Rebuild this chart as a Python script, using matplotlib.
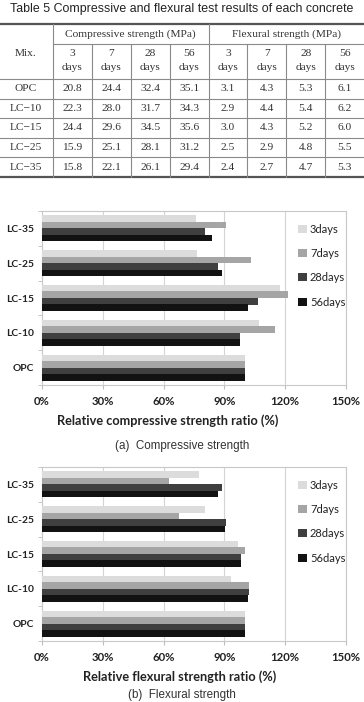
import matplotlib
matplotlib.use("Agg")
import matplotlib.pyplot as plt
from matplotlib.lines import Line2D
import numpy as np

# ---- data ----
mixes = ["OPC", "LC-10", "LC-15", "LC-25", "LC-35"]
day_labels = ["3days", "7days", "28days", "56days"]

comp_3d = ["20.8", "22.3", "24.4", "15.9", "15.8"]
comp_7d = ["24.4", "28.0", "29.6", "25.1", "22.1"]
comp_28d = ["32.4", "31.7", "34.5", "28.1", "26.1"]
comp_56d = ["35.1", "34.3", "35.6", "31.2", "29.4"]
flex_3d = ["3.1", "2.9", "3.0", "2.5", "2.4"]
flex_7d = ["4.3", "4.4", "4.3", "2.9", "2.7"]
flex_28d = ["5.3", "5.4", "5.2", "4.8", "4.7"]
flex_56d = ["6.1", "6.2", "6.0", "5.5", "5.3"]

# relative ratios (%), order = mixes
comp_ratio_3d = [100, 107.2, 117.3, 76.4, 76.0]
comp_ratio_7d = [100, 114.8, 121.3, 102.9, 90.6]
comp_ratio_28d = [100, 97.8, 106.5, 86.7, 80.6]
comp_ratio_56d = [100, 97.7, 101.4, 88.9, 83.8]

flex_ratio_3d = [100, 93.5, 96.8, 80.6, 77.4]
flex_ratio_7d = [100, 102.3, 100.0, 67.4, 62.8]
flex_ratio_28d = [100, 101.9, 98.1, 90.6, 88.7]
flex_ratio_56d = [100, 101.6, 98.4, 90.2, 86.9]

W, H = 364, 702
fig = plt.figure(figsize=(W / 100, H / 100), dpi=100)


def fx(x):
    return x / W


def fy(y):
    return 1 - y / H


def hline(y, x0, x1, lw=0.8, color="#8a8a8a"):
    fig.add_artist(Line2D([fx(x0), fx(x1)], [fy(y), fy(y)], lw=lw, color=color,
                          transform=fig.transFigure))


def vline(x, y0, y1, lw=0.8, color="#8a8a8a"):
    fig.add_artist(Line2D([fx(x), fx(x)], [fy(y0), fy(y1)], lw=lw, color=color,
                          transform=fig.transFigure))


# ---- table ----
txt_col = "#333333"
serif = "Liberation Serif"
tsize = 8.2
fig.text(fx(182), fy(9), "Table 5 Compressive and flexural test results of each concrete",
         ha="center", va="center", fontsize=8.9, family="Liberation Sans", color="#222222")

col_x = [53 + i * (364 - 53) / 8 for i in range(9)]
top, h1, h2 = 24, 44, 79
row_h = (177 - 79) / 5

hline(top, 0, 364, lw=1.6, color="#555555")
hline(177, 0, 364, lw=1.6, color="#555555")
hline(h1, col_x[0], 364)
hline(h2, 0, 364)
for r in range(1, 5):
    hline(h2 + r * row_h, 0, 364)
vline(col_x[0], top, 177)
vline(col_x[4], top, 177)
for i in [1, 2, 3, 5, 6, 7]:
    vline(col_x[i], h1, 177)

fig.text(fx(26), fy(53), "Mix.", ha="center", va="center", fontsize=tsize, family=serif, color=txt_col)
fig.text(fx((col_x[0] + col_x[4]) / 2), fy(34), "Compressive strength (MPa)",
         ha="center", va="center", fontsize=tsize, family=serif, color=txt_col)
fig.text(fx((col_x[4] + col_x[8]) / 2), fy(34), "Flexural strength (MPa)",
         ha="center", va="center", fontsize=tsize, family=serif, color=txt_col)
for i, d in enumerate(["3", "7", "28", "56"] * 2):
    cx = (col_x[i] + col_x[i + 1]) / 2
    fig.text(fx(cx), fy(54), d, ha="center", va="center", fontsize=tsize, family=serif, color=txt_col)
    fig.text(fx(cx), fy(68), "days", ha="center", va="center", fontsize=tsize, family=serif, color=txt_col)

table_cols = [comp_3d, comp_7d, comp_28d, comp_56d, flex_3d, flex_7d, flex_28d, flex_56d]
for r, m in enumerate(mixes):
    cy = h2 + (r + 0.5) * row_h
    fig.text(fx(26), fy(cy), m.replace("-", "\u2212"), ha="center", va="center",
             fontsize=tsize, family=serif, color=txt_col)
    for i, col in enumerate(table_cols):
        cx = (col_x[i] + col_x[i + 1]) / 2
        fig.text(fx(cx), fy(cy), col[r], ha="center", va="center",
                 fontsize=tsize, family=serif, color=txt_col)

# ---- bar charts ----
colors = ["#dcdcdc", "#a5a5a5", "#3f3f3f", "#121212"]
offsets = [0.28, 0.094, -0.094, -0.28]
bar_h = 0.19
chart_font = "Lato"


def bar_chart(top_px, bottom_px, series, xlabel, label_x, caption, cap_y):
    ax = fig.add_axes([fx(42), fy(bottom_px), fx(346) - fx(42), fy(top_px) - fy(bottom_px)])
    y = np.arange(len(mixes))
    for vals, c, off, lab in zip(series, colors, offsets, day_labels):
        ax.barh(y + off, vals, height=bar_h, color=c, label=lab, zorder=3)
    ax.set_xlim(0, 150)
    ax.set_ylim(-0.5, 4.5)
    ax.set_xticks([0, 30, 60, 90, 120, 150])
    ax.set_xticklabels(["0%", "30%", "60%", "90%", "120%", "150%"],
                       fontsize=8.2, fontweight="bold", family=chart_font, color="#222222")
    ax.set_yticks(y)
    ax.set_yticklabels(mixes, fontsize=7.4, fontweight="bold", family=chart_font, color="#222222")
    ax.set_yticks(np.arange(-0.5, 5, 1), minor=True)
    ax.tick_params(axis="y", which="major", length=0, pad=6)
    ax.tick_params(axis="y", which="minor", length=3, color="#bdbdbd", direction="out")
    ax.tick_params(axis="x", length=3, color="#bdbdbd", pad=5)
    ax.grid(axis="x", color="#d4d4d4", lw=0.8, zorder=0)
    for s in ax.spines.values():
        s.set_color("#c8c8c8")
        s.set_linewidth(0.8)
    ax.set_xlabel(xlabel, fontsize=9.2, fontweight="bold", family=chart_font, color="#222222",
                  labelpad=3)
    ax.xaxis.set_label_coords((label_x - 42) / 304, -0.17)
    leg = ax.legend(loc="upper left", bbox_to_anchor=(0.81, 0.985), frameon=False,
                    prop={"family": chart_font, "size": 8}, labelspacing=1.2,
                    handlelength=0.75, handleheight=0.75, handletextpad=0.3)
    for t in leg.get_texts():
        t.set_color("#222222")
    fig.text(fx(182), fy(cap_y), caption, ha="center", va="center", fontsize=8.4,
             family="Liberation Sans", color="#333333")
    return ax


bar_chart(211, 385, [comp_ratio_3d, comp_ratio_7d, comp_ratio_28d, comp_ratio_56d],
          "Relative compressive strength ratio (%)", 168, "(a)  Compressive strength", 446)
bar_chart(467, 641, [flex_ratio_3d, flex_ratio_7d, flex_ratio_28d, flex_ratio_56d],
          "Relative flexural strength ratio (%)", 180, "(b)  Flexural strength", 695)

fig.savefig("out.png", dpi=100)
